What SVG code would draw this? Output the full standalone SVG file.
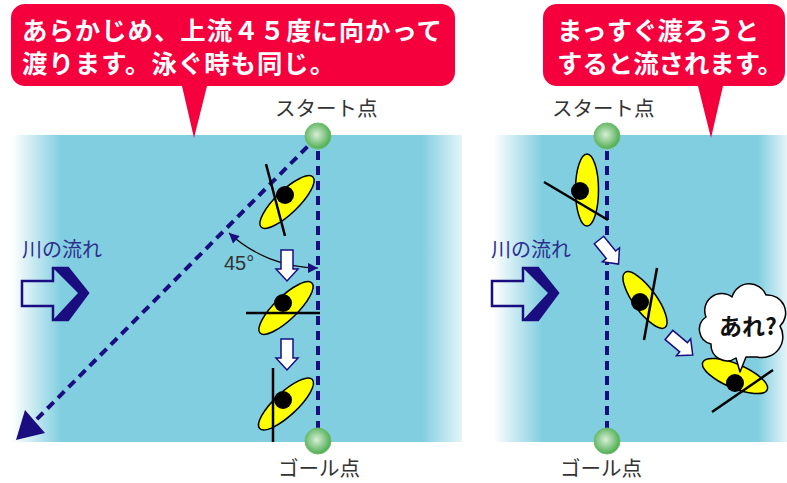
<svg xmlns="http://www.w3.org/2000/svg" width="787" height="483" viewBox="0 0 787 483">
  <style>
    .jp { font-family: "Noto Sans CJK JP", "Noto Sans", sans-serif; }
    .label { font-size: 20.5px; fill: #333333; }
    .flowtxt { font-size: 20px; fill: #2E2E8F; }
    .bubbletxt { font-size: 25.4px; font-weight: bold; fill: #FFFFFF; }
    .bubble { fill: #F5003D; }
    .dash { fill: none; stroke: #1A0D80; stroke-width: 4; stroke-dasharray: 9 6; }
    .pin { fill: url(#pin); stroke: #6DBD6D; stroke-width: 1; }
    .boat { fill: #FFFF00; stroke: #000000; stroke-width: 1.5; }
    .head { fill: #000000; }
    .paddle { stroke: #000000; stroke-width: 2.5; fill: none; }
    .step { fill: #FFFFFF; stroke: #1A0D80; stroke-width: 1.5; stroke-linejoin: miter; }
    .flow-outline { fill: none; stroke: #1A0D80; stroke-width: 2.5; stroke-linejoin: miter; }
    .flow-band { fill: #1A0D80; }
  </style>
  <defs>
    <linearGradient id="riverL" gradientUnits="userSpaceOnUse" x1="12" y1="0" x2="462" y2="0">
      <stop offset="0" stop-color="#FFFFFF"/>
      <stop offset="0.11" stop-color="#80CEE0"/>
      <stop offset="0.91" stop-color="#80CEE0"/>
      <stop offset="1" stop-color="#E4F5F9"/>
    </linearGradient>
    <linearGradient id="riverR" gradientUnits="userSpaceOnUse" x1="493" y1="0" x2="787" y2="0">
      <stop offset="0" stop-color="#FFFFFF"/>
      <stop offset="0.17" stop-color="#80CEE0"/>
      <stop offset="0.9" stop-color="#80CEE0"/>
      <stop offset="1" stop-color="#E4F5F9"/>
    </linearGradient>
    <radialGradient id="pin" cx="0.45" cy="0.45" r="0.55">
      <stop offset="0" stop-color="#D8EED8"/>
      <stop offset="1" stop-color="#4EAE50"/>
    </radialGradient>
    <marker id="tip" viewBox="0 0 10 10" refX="10" refY="5" markerWidth="11" markerHeight="10" markerUnits="userSpaceOnUse" orient="auto-start-reverse">
      <path d="M0,0 L10,5 L0,10 z" fill="#1A0D80"/>
    </marker>
    <!-- small hollow step arrow, origin at the middle of its tail, pointing down -->
    <path id="step" d="M-6,0 H6 V19 H11 L0,31 L-11,19 H-6 Z"/>
    <!-- big hollow river-flow arrow with a heavy right edge -->
    <g id="flow">
      <polygon class="flow-outline" points="0,13 31,13 31,0 46,0 66,25 46,52 31,52 31,38 0,38"/>
      <polygon class="flow-band" points="31,0 46,0 66,25 46,52 31,52 56,25"/>
    </g>
  </defs>

  <!-- river panels -->
  <rect x="12" y="135" width="450" height="307" fill="url(#riverL)"/>
  <rect x="493" y="135" width="294" height="307" fill="url(#riverR)"/>

  <!-- flow direction -->
  <g id="flow-left">
    <text class="jp flowtxt" x="22" y="257">川の流れ</text>
    <use href="#flow" x="22" y="268"/>
  </g>
  <g id="flow-right">
    <text class="jp flowtxt" x="491" y="257">川の流れ</text>
    <use href="#flow" x="492" y="268"/>
  </g>

  <!-- connectors -->
  <g id="connectors">
    <line class="dash" x1="318" y1="136" x2="318" y2="440"/>
    <line class="dash" x1="318" y1="136" x2="32" y2="424"/>
    <polygon points="16,440 25,410 45,433" fill="#1A0D80"/>
    <path d="M229,233 A132,132 0 0 0 318,268" fill="none" stroke="#000000" stroke-width="1.2" marker-start="url(#tip)" marker-end="url(#tip)"/>
    <line class="dash" x1="607" y1="136" x2="607" y2="441"/>
  </g>

  <text class="label" x="224" y="270" style="font-family:'Liberation Sans',Arial,sans-serif;font-size:20px">45°</text>

  <!-- left panel: angled upstream crossing -->
  <g id="kayak-l1">
    <ellipse class="boat" cx="287" cy="202" rx="36" ry="11.5" transform="rotate(-44 287 202)"/>
    <circle class="head" cx="285" cy="195" r="9"/>
    <line class="paddle" x1="266" y1="164" x2="285" y2="236"/>
  </g>
  <g id="step-l1"><use href="#step" class="step" transform="translate(287,250)"/></g>
  <g id="kayak-l2">
    <ellipse class="boat" cx="286" cy="308" rx="36" ry="11.5" transform="rotate(-44 286 308)"/>
    <circle class="head" cx="283" cy="303" r="9"/>
    <line class="paddle" x1="246" y1="313" x2="320" y2="313"/>
  </g>
  <g id="step-l2"><use href="#step" class="step" transform="translate(287,339)"/></g>
  <g id="kayak-l3">
    <ellipse class="boat" cx="286" cy="404" rx="36" ry="11.5" transform="rotate(-43 286 404)"/>
    <circle class="head" cx="283" cy="400" r="9"/>
    <line class="paddle" x1="273" y1="368" x2="273" y2="442"/>
  </g>

  <!-- right panel: straight crossing drifts downstream -->
  <g id="kayak-r1">
    <ellipse class="boat" cx="587" cy="190" rx="11.5" ry="36"/>
    <circle class="head" cx="580" cy="191" r="9"/>
    <line class="paddle" x1="544" y1="182" x2="608" y2="220"/>
  </g>
  <g id="step-r1"><use href="#step" class="step" transform="translate(599,240) rotate(-39)"/></g>
  <g id="kayak-r2">
    <ellipse class="boat" cx="645" cy="300" rx="34" ry="11.5" transform="rotate(54 645 300)"/>
    <circle class="head" cx="640" cy="302" r="9"/>
    <line class="paddle" x1="657" y1="268" x2="644" y2="340"/>
  </g>
  <g id="step-r2"><use href="#step" class="step" transform="translate(669,335) rotate(-50)"/></g>
  <g id="kayak-r3">
    <ellipse class="boat" cx="735" cy="376" rx="35" ry="12" transform="rotate(23 735 376)"/>
    <circle class="head" cx="735" cy="383" r="9"/>
    <line class="paddle" x1="712" y1="412" x2="773" y2="370"/>
  </g>
  <g id="thought">
    <path d="M736,358 A16,16 0 0 1 711,344 A15,15 0 0 1 706,317 A17,17 0 0 1 732,297 A18,18 0 0 1 766,295 A18,18 0 0 1 780,326 A21,21 0 0 1 757,357 L746,357 L740,372 Z" fill="#FFFFFF" stroke="#000000" stroke-width="1.5" stroke-linejoin="round"/>
    <text class="jp" x="748" y="335" text-anchor="middle" font-size="23" font-weight="bold" fill="#111111">あれ?</text>
  </g>

  <!-- start / goal markers -->
  <g id="start-left">
    <circle class="pin" cx="318" cy="136" r="13"/>
    <text class="jp label" x="275" y="116">スタート点</text>
  </g>
  <g id="goal-left">
    <circle class="pin" cx="318" cy="441" r="13"/>
    <text class="jp label" x="278" y="476">ゴール点</text>
  </g>
  <g id="start-right">
    <circle class="pin" cx="607" cy="136" r="13"/>
    <text class="jp label" x="552" y="116">スタート点</text>
  </g>
  <g id="goal-right">
    <circle class="pin" cx="607" cy="441" r="13"/>
    <text class="jp label" x="560" y="476">ゴール点</text>
  </g>

  <!-- callouts -->
  <g id="callout-left">
    <path class="bubble" d="M25,4 H441 A14,14 0 0 1 455,18 V72 A14,14 0 0 1 441,86 H207 L194,138 L182,86 H25 A14,14 0 0 1 11,72 V18 A14,14 0 0 1 25,4 Z"/>
    <text class="jp bubbletxt" x="22" y="40" letter-spacing="1">あらかじめ、上流４５度に向かって</text>
    <text class="jp bubbletxt" x="22" y="73" letter-spacing="1">渡ります。泳ぐ時も同じ。</text>
  </g>
  <g id="callout-right">
    <path class="bubble" d="M557,4 H771 A14,14 0 0 1 785,18 V72 A14,14 0 0 1 771,86 H723 L711,138 L698,86 H557 A14,14 0 0 1 543,72 V18 A14,14 0 0 1 557,4 Z"/>
    <text class="jp bubbletxt" x="557" y="40">まっすぐ渡ろうと</text>
    <text class="jp bubbletxt" x="557" y="73">すると流されます。</text>
  </g>
</svg>
